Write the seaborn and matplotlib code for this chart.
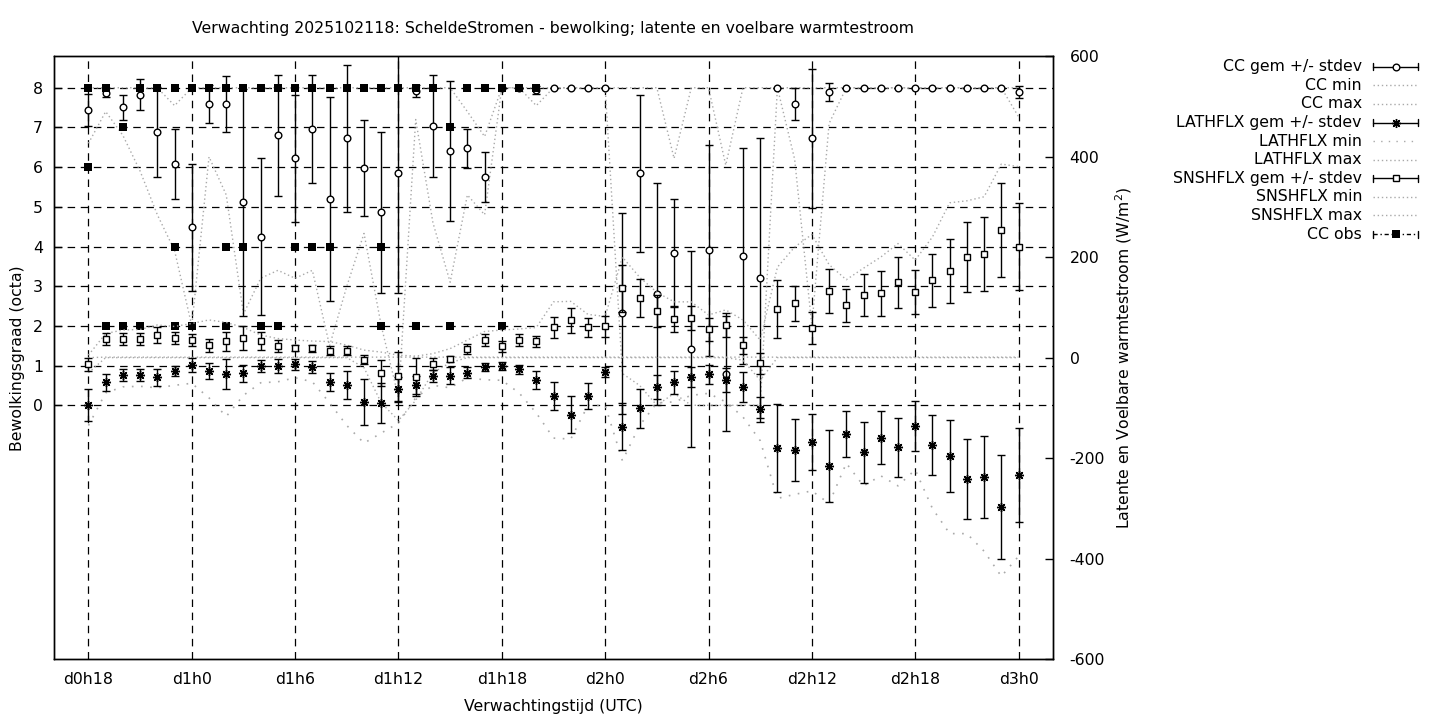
import numpy as np
import matplotlib
matplotlib.use("Agg")
import matplotlib.pyplot as plt
from matplotlib.lines import Line2D
import seaborn as sns

# ---------------- data ----------------
hours = list(range(55))  # hours since d0h18
tick_hours = [0, 6, 12, 18, 24, 30, 36, 42, 48, 54]
tick_labels = ["d0h18", "d1h0", "d1h6", "d1h12", "d1h18", "d2h0", "d2h6", "d2h12", "d2h18", "d3h0"]

cc_mean = [7.44, 7.88, 7.51, 7.83, 6.88, 6.07, 4.48, 7.59, 7.59, 5.11,
           4.25, 6.80, 6.22, 6.95, 5.19, 6.73, 5.99, 4.86, 5.84, 7.92,
           7.03, 6.41, 6.47, 5.74, 8.00, 8.00, 7.95, 8.00, 8.00, 8.00,
           8.00, 2.32, 5.84, 2.80, 3.83, 1.42, 3.90, 0.79, 3.75, 3.20,
           8.00, 7.59, 6.73, 7.90, 8.00, 8.00, 8.00, 8.00, 8.00, 8.00,
           8.00, 8.00, 8.00, 8.00, 7.90]
cc_std = [0.41, 0.11, 0.32, 0.40, 1.13, 0.88, 1.61, 0.49, 0.71, 2.86,
          1.97, 1.53, 1.60, 1.36, 2.57, 1.85, 1.21, 2.02, 3.01, 0.15,
          1.28, 1.76, 0.48, 0.63, 0.00, 0.00, 0.10, 0.00, 0.00, 0.00,
          0.00, 2.53, 1.99, 2.79, 1.36, 2.47, 2.65, 1.45, 2.72, 3.53,
          0.00, 0.40, 1.75, 0.23, 0.00, 0.00, 0.00, 0.00, 0.00, 0.00,
          0.00, 0.00, 0.00, 0.00, 0.15]
cc_min = [6.6, 7.4, 6.8, 5.9, 4.8, 3.9, 2.0, 6.26, 5.3, 2.3,
          3.2, 3.4, 3.2, 3.4, 1.5, 3.0, 4.33, 2.0, 0.2, 7.2,
          4.6, 3.1, 5.3, 4.8, 8.0, 8.0, 7.55, 8.0, 8.0, 8.0,
          8.0, 0.8, 0.5, 0.0, 0.3, 0.0, 0.0, 0.0, 0.0, 0.0,
          8.0, 6.2, 2.0, 7.1, 8.0, 8.0, 8.0, 8.0, 8.0, 8.0,
          8.0, 8.0, 8.0, 8.0, 7.27]
cc_max = [8.0, 8.0, 8.0, 8.0, 8.0, 7.55, 8.0, 8.0, 8.0, 8.0,
          8.0, 8.0, 8.0, 8.0, 8.0, 8.0, 8.0, 8.0, 8.0, 8.0,
          8.0, 8.0, 7.4, 6.77, 8.0, 8.0, 8.0, 8.0, 8.0, 8.0,
          8.0, 8.0, 8.0, 8.0, 6.22, 8.0, 8.0, 6.05, 8.0, 8.0,
          8.0, 8.0, 8.0, 8.0, 8.0, 8.0, 8.0, 8.0, 8.0, 8.0,
          8.0, 8.0, 8.0, 8.0, 8.0]

lat_mean = [-94.6, -48.9, -35.0, -35.0, -39.0, -26.4, -14.5, -26.4, -32.4, -31.0,
            -16.5, -16.5, -13.2, -18.5, -48.9, -54.8, -88.6, -90.6, -62.8, -54.8,
            -36.3, -36.0, -29.8, -17.9, -16.5, -23.0, -44.9, -76.0, -113.8, -76.0,
            -27.8, -137.0, -100.5, -57.6, -48.9, -38.3, -33.0, -44.9, -58.2, -102.5,
            -180.0, -184.0, -168.0, -215.0, -152.0, -188.0, -159.0, -178.0, -136.0, -174.0,
            -196.0, -241.5, -237.5, -297.0, -233.6]
lat_std = [32, 17, 12.3, 12.3, 17.2, 10, 14, 16, 30, 16.5,
           12, 14, 11, 11.3, 18, 27.8, 46, 40, 25, 18,
           12.6, 16.5, 11, 8, 8.5, 9, 17.5, 28.5, 37, 26,
           10, 46, 38.7, 24, 23, 20, 19, 24, 30, 25,
           87, 61.6, 55, 71.5, 45.7, 60.6, 52, 58.6, 50.6, 59.6,
           72, 80, 81.5, 103, 94]
lat_min = [-135, -70, -58, -57, -60, -55, -51, -80, -117, -75,
           -50, -48, -40, -48, -90, -135, -170, -150, -130, -80,
           -55, -60, -40, -44, -45, -70, -110, -160, -162, -95,
           -95, -205, -135, -90, -88, -75, -71, -88, -118, -165,
           -280, -272, -265, -290, -210, -255, -235, -255, -223, -300,
           -350, -350, -385, -435, -395]
lat_max = [0, 1, 1, 1, 1, 1, 1, 1, 1, 1,
           1, 1, 1, 1, 1, 1, 1, 1, 1, 1,
           1, 1, 1, 1, 1, 1, 1, 1, 1, 1,
           1, 1, 1, 1, 1, 1, 1, 1, 1, 1,
           1, 1, 1, 1, 1, 1, 1, 1, 1, 1,
           1, 1, 1, 1, 1]

sns_mean = [-13.2, 36.5, 36.5, 36.5, 44.5, 38.5, 34.5, 24.6, 32.5, 38.5,
            33.2, 22.6, 18.6, 18.6, 13.3, 13.3, -4.6, -31.0, -37.0, -38.3,
            -13.2, -3.3, 17.3, 34.5, 22.6, 34.5, 32.5, 60.3, 74.2, 60.3,
            62.3, 137.8, 118.0, 92.7, 76.2, 78.2, 56.4, 64.3, 24.6, -11.1,
            96.1, 108.0, 59.0, 132.5, 104.0, 124.0, 128.0, 150.0, 130.0, 154.0,
            171.6, 201.0, 207.0, 253.6, 221.0]
sns_std = [13, 12, 12, 12, 15.5, 12, 12, 13, 19, 24,
           17, 12, 6, 7, 9, 9, 9, 26, 49, 38,
           12, 6, 9.6, 12, 10.6, 12, 11, 21.5, 24.5, 19,
           20.5, 47, 38, 31, 26, 24, 22.5, 24, 17, 20.5,
           58, 35, 31.5, 44, 32.4, 41.7, 45, 50.6, 43.4, 52.6,
           63.6, 69.5, 73.5, 94, 87]
sns_min = [-30, 0, 0, 0, 0, 0, 0, 0, 0, 0,
           0, 0, 0, 0, 0, 0, -20, -90, -125, -85,
           -30, -10, 0, 0, 0, 0, 0, 0, 0, 0,
           0, 0, 0, 0, 0, 0, 0, 0, -5, -45,
           0, 0, 0, 0, 0, 0, 0, 0, 0, 0,
           0, 0, 0, 0, 0]
sns_max = [5, 48, 55, 56, 65, 62, 68, 75, 70, 60,
           45, 38, 35, 33, 32, 25, 15, 11, 5, 3,
           8, 18, 35, 52, 55, 57, 60, 111, 112, 86,
           82, 200, 160, 130, 111, 111, 85, 95, 75, 35,
           180, 220, 245, 185, 155, 178, 200, 227, 194, 240,
           308, 312, 320, 385, 380]

obs_hours = [0, 1, 3, 4, 5, 6, 7, 8, 9, 10, 11, 12, 13, 14, 15, 16, 17, 18, 19, 20,
             22, 23, 24, 25, 26,
             2, 21,
             0,
             5, 8, 9, 12, 13, 14, 17,
             1, 2, 3, 5, 6, 8, 10, 11, 17, 19, 21, 24]
obs_values = [8, 8, 8, 8, 8, 8, 8, 8, 8, 8, 8, 8, 8, 8, 8, 8, 8, 8, 8, 8,
              8, 8, 8, 8, 8,
              7, 7,
              6,
              4, 4, 4, 4, 4, 4, 4,
              2, 2, 2, 2, 2, 2, 2, 2, 2, 2, 2, 2]

title = "Verwachting 2025102118: ScheldeStromen - bewolking; latente en voelbare warmtestroom"
legend_labels = ["CC gem +/- stdev", "CC min", "CC max", "LATHFLX gem +/- stdev",
                 "LATHFLX min", "LATHFLX max", "SNSHFLX gem +/- stdev",
                 "SNSHFLX min", "SNSHFLX max", "CC obs"]

# ---------------- style ----------------
sns.set_style("white")
plt.rcParams['font.family'] = ['DejaVu Sans']
plt.rcParams['axes.unicode_minus'] = False
plt.rcParams['text.color'] = 'black'
plt.rcParams['axes.labelcolor'] = 'black'
plt.rcParams['xtick.color'] = 'black'
plt.rcParams['ytick.color'] = 'black'
FS = 11.35
GREY = '#a9a9a9'
DOT = (0, (1, 2))
DOT_SPARSE = (0, (1, 4.5))
asterisk = (8, 2, 0)

W, H = 1440, 720
fig = plt.figure(figsize=(14.4, 7.2), dpi=100)
fig.patch.set_facecolor('white')
ax = fig.add_axes([54 / W, (H - 659.3) / H, 999 / W, 603.3 / H])
ax2 = ax.twinx()
for a in (ax, ax2):
    a.set_facecolor('none')
    for s in a.spines.values():
        s.set_color('black')
        s.set_linewidth(1.0)
ax.set_zorder(1)
ax2.set_zorder(2)

ax.set_xlim(-2, 56)
ax.set_ylim(-6.4, 8.8)
ax2.set_ylim(-600, 600)

# grid
ax.set_xticks(tick_hours)
ax.set_xticklabels(tick_labels)
ax.set_yticks(range(9))
ax.grid(True, color='black', linestyle=(0, (6, 4.5)), linewidth=0.9)
ax2.set_yticks([-600, -400, -200, 0, 200, 400, 600])
ax2.grid(False)

ax.tick_params(axis='x', direction='in', length=6, width=1, labelsize=FS, pad=9, colors='black',
               labelcolor='black')
ax.tick_params(axis='y', direction='in', length=6, width=1, labelsize=FS, pad=8, colors='black',
               labelcolor='black')
ax2.tick_params(axis='y', direction='in', length=6, width=1, labelsize=FS, pad=12, colors='black',
                labelcolor='black')

# grey envelopes
sns.lineplot(x=hours, y=cc_min, ax=ax, color=GREY, linewidth=1.0, linestyle=DOT)
sns.lineplot(x=hours, y=cc_max, ax=ax, color=GREY, linewidth=1.0, linestyle=DOT)
sns.lineplot(x=hours, y=lat_min, ax=ax2, color=GREY, linewidth=1.2, linestyle=DOT_SPARSE)
sns.lineplot(x=hours, y=lat_max, ax=ax2, color=GREY, linewidth=1.0, linestyle=DOT)
sns.lineplot(x=hours, y=sns_min, ax=ax2, color=GREY, linewidth=1.0, linestyle=DOT)
sns.lineplot(x=hours, y=sns_max, ax=ax2, color=GREY, linewidth=1.0, linestyle=DOT)

# mean +/- stdev
eb_kw = dict(ecolor='black', elinewidth=1.0, capsize=2.6, capthick=1.0, linestyle='none')
ax.errorbar(hours, cc_mean, yerr=cc_std, fmt='', marker='o', mfc='white', mec='black', ms=4.8, mew=1.0,
            zorder=5, **eb_kw)
ax2.errorbar(hours, lat_mean, yerr=lat_std, fmt='', marker=asterisk, mfc='black', mec='black', ms=6.5,
             mew=1.0, zorder=5, **eb_kw)
ax2.errorbar(hours, sns_mean, yerr=sns_std, fmt='', marker='s', mfc='white', mec='black', ms=4.8, mew=1.0,
             zorder=5, **eb_kw)

# observations
sns.scatterplot(x=obs_hours, y=obs_values, ax=ax, marker='s', color='black', s=30, edgecolor='black',
                linewidth=0, zorder=6, legend=False)

ax.set_xlabel("")
ax.set_ylabel("")
ax2.set_ylabel("")

# texts
fig.text(553 / W, 1 - 29 / H, title, ha='center', va='center', fontsize=FS, color='black')
fig.text(553 / W, 1 - 706 / H, "Verwachtingstijd (UTC)", ha='center', va='center', fontsize=FS, color='black')
fig.text(18 / W, 1 - 358 / H, "Bewolkingsgraad (octa)", ha='center', va='center', rotation=90, fontsize=FS,
         color='black')
fig.text(1124 / W, 1 - 358 / H, "Latente en Voelbare warmtestroom (W/m$^2$)", ha='center', va='center',
         rotation=90, fontsize=FS, color='black')

# legend (gnuplot style, drawn manually)
x_text = 1362 / W
x0, x1 = 1373.3 / W, 1418.3 / W
xm = (x0 + x1) / 2
cap = 3.6 / H
for k, lab in enumerate(legend_labels):
    yy = 1 - (66.7 + 18.6 * k) / H
    fig.text(x_text, yy, lab, ha='right', va='center', fontsize=FS, color='black')
    if k in (0, 3, 6, 9):
        ls = '-' if k != 9 else (0, (3, 2, 1, 2))
        fig.add_artist(Line2D([x0, x1], [yy, yy], color='black', lw=1.0, linestyle=ls, transform=fig.transFigure))
        fig.add_artist(Line2D([x0, x0], [yy - cap, yy + cap], color='black', lw=1.0, transform=fig.transFigure))
        fig.add_artist(Line2D([x1, x1], [yy - cap, yy + cap], color='black', lw=1.0, transform=fig.transFigure))
        if k == 0:
            fig.add_artist(Line2D([xm], [yy], marker='o', mfc='white', mec='black', ms=4.8, mew=1.0,
                                  transform=fig.transFigure))
        elif k == 3:
            fig.add_artist(Line2D([xm], [yy], marker=asterisk, mfc='black', mec='black', ms=6.5, mew=1.0,
                                  transform=fig.transFigure))
        elif k == 6:
            fig.add_artist(Line2D([xm], [yy], marker='s', mfc='white', mec='black', ms=4.8, mew=1.0,
                                  transform=fig.transFigure))
        else:
            fig.add_artist(Line2D([xm], [yy], marker='s', mfc='black', mec='black', ms=5.2, mew=0,
                                  transform=fig.transFigure))
    else:
        ls = DOT_SPARSE if k == 4 else DOT
        fig.add_artist(Line2D([x0, x1], [yy, yy], color=GREY, lw=1.0, linestyle=ls, transform=fig.transFigure))

fig.savefig("out.png", dpi=100, facecolor='white')
